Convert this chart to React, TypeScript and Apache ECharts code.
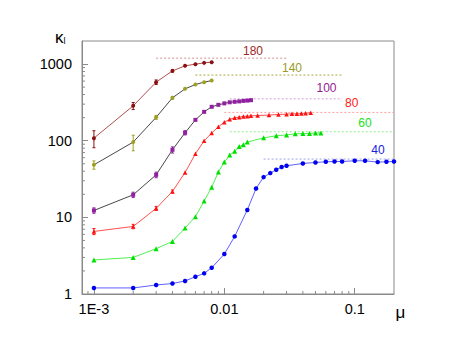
import React, { useEffect, useRef } from 'react';
import * as echarts from 'echarts';

// ---- data ----
const xLow = [0.001, 0.002, 0.003, 0.004, 0.005, 0.006, 0.007, 0.008];

const x180 = xLow;
const y180 = [108, 285, 581, 815, 948, 997, 1037, 1059];
const e180 = [27, 30, 40, 30, 0, 0, 0, 0];

const x140 = xLow;
const y140 = [48.5, 95.9, 202, 363, 475, 541, 581, 609];
const e140 = [6, 22, 12, 15, 0, 0, 0, 0];

const x100 = [0.001, 0.002, 0.003, 0.004, 0.005, 0.006, 0.007, 0.008, 0.009, 0.01, 0.011, 0.012, 0.013, 0.014, 0.015, 0.016];
const y100 = [12.3, 19.7, 35.9, 76.1, 127, 187, 238, 277, 294, 307, 317, 322, 326, 331, 334, 338];
const e100 = [1, 1.6, 3, 7, 8, 0, 0, 0, 0, 0, 0, 0, 0, 0, 0, 0];

const x80 = [0.001, 0.002, 0.003, 0.004, 0.005, 0.006, 0.007, 0.008, 0.009, 0.01, 0.011, 0.012, 0.013, 0.014, 0.015, 0.016, 0.018, 0.022, 0.026, 0.03, 0.033, 0.036, 0.039, 0.042, 0.046];
const y80 = [6.55, 7.61, 13.1, 21.8, 38.5, 67.5, 99.7, 126, 152, 174, 190, 199, 203, 207, 209, 211, 213, 216, 220, 222, 224, 224, 226, 229, 231];
const e80 = [0.6, 0.5, 0.8, 1, 0, 0, 0, 0, 0, 0, 0, 0, 0, 0, 0, 0, 0, 0, 0, 0, 0, 0, 0, 0, 0];

const x60 = [0.001, 0.002, 0.003, 0.004, 0.005, 0.006, 0.007, 0.008, 0.009, 0.01, 0.011, 0.012, 0.013, 0.014, 0.015, 0.02, 0.025, 0.03, 0.035, 0.04, 0.045, 0.05, 0.055];
const y60 = [2.78, 3.0, 3.9, 4.85, 7.26, 10.2, 16.3, 24.8, 39.0, 52.6, 64.9, 73, 84, 88.5, 96, 109, 116, 119, 123, 124, 124, 126, 126];

const x40 = [0.001, 0.002, 0.003, 0.004, 0.005, 0.006, 0.007, 0.008, 0.01, 0.012, 0.015, 0.0175, 0.02, 0.0225, 0.025, 0.0275, 0.03, 0.04, 0.05, 0.06, 0.07, 0.08, 0.1, 0.12, 0.15, 0.175, 0.2];
const y40 = [1.2, 1.2, 1.31, 1.37, 1.48, 1.68, 1.86, 2.2, 3.32, 5.64, 12.5, 23.8, 33.5, 37.8, 41.8, 45.3, 47.1, 50.5, 52.0, 53.1, 53.6, 53.6, 54.7, 54.7, 52.6, 53.1, 53.6];

// asymptote reference lines: [value, xStart, xEnd]
const refNames = ['180', '140', '100', '80', '60', '40'];
const refValues = [1194, 719, 352, 234, 131, 57.6];
const refStart = [0.003, 0.006, 0.011, 0.01, 0.011, 0.02];
const refEnd = [0.03, 0.08, 0.08, 0.2, 0.2, 0.2];

const X_MIN = 0.00081;
const X_MAX = 0.2;
const Y_MIN = 1;
const Y_MAX = 2000;

const xMinorTicks = [0.0009, 0.002, 0.003, 0.004, 0.005, 0.006, 0.007, 0.008, 0.009, 0.02, 0.03, 0.04, 0.05, 0.06, 0.07, 0.08, 0.09];
const yMinorTicks = [2, 3, 4, 5, 6, 7, 8, 9, 20, 30, 40, 50, 60, 70, 80, 90, 200, 300, 400, 500, 600, 700, 800, 900];

const FONT = "'Liberation Sans Narrow', 'Arial Narrow', 'Liberation Sans', Arial, sans-serif";
const AXIS_COLOR = '#8a8a8a';

const styles = [
  { marker: '#8b1010', line: '#b05050', ref: '#d89090', label: '#a02828', symbol: 'circle', size: 4 },
  { marker: '#a0a020', line: '#484848', ref: '#a8a840', label: '#9a9a28', symbol: 'circle', size: 4 },
  { marker: '#9020a0', line: '#484848', ref: '#d8a0e0', label: '#902090', symbol: 'rect', size: 4 },
  { marker: '#ff1010', line: '#ff5050', ref: '#ffa0a0', label: '#ff2020', symbol: 'triangle', size: 4.5 },
  { marker: '#00e000', line: '#50f050', ref: '#90f090', label: '#20e020', symbol: 'triangle', size: 5 },
  { marker: '#0000f0', line: '#6060ff', ref: '#a0a0f0', label: '#2020e0', symbol: 'circle', size: 4.5 },
];

const seriesX = [x180, x140, x100, x80, x60, x40];
const seriesY = [y180, y140, y100, y80, y60, y40];
const seriesE = [e180, e140, e100, e80, null, null];

// label anchor positions in pixels (centre)
const labelPos = [
  [253, 51], [292, 68], [326.5, 88], [351.7, 103], [365, 123], [378, 150],
];

const isDecade = (v: number) => Math.abs(Math.log10(v) - Math.round(Math.log10(v))) < 1e-6;

export default function App() {
  const ref = useRef<HTMLDivElement>(null);
  useEffect(() => {
    if (!ref.current) return;
    const chart = echarts.init(ref.current, null, { renderer: 'svg' });
    const series: any[] = [];

    // minor ticks
    series.push({
      type: 'custom',
      silent: true,
      clip: false,
      data: xMinorTicks.map((v) => [v, Y_MIN]),
      encode: { x: 0, y: 1 },
      renderItem: (_p: any, api: any) => {
        const p = api.coord([api.value(0), api.value(1)]);
        return { type: 'line', shape: { x1: p[0], y1: p[1], x2: p[0], y2: p[1] - 3 }, style: { stroke: AXIS_COLOR, lineWidth: 1 } };
      },
      z: 1,
    });
    series.push({
      type: 'custom',
      silent: true,
      clip: false,
      data: yMinorTicks.map((v) => [X_MIN, v]),
      encode: { x: 0, y: 1 },
      renderItem: (_p: any, api: any) => {
        const p = api.coord([api.value(0), api.value(1)]);
        return { type: 'line', shape: { x1: p[0], y1: p[1], x2: p[0] + 3, y2: p[1] }, style: { stroke: AXIS_COLOR, lineWidth: 1 } };
      },
      z: 1,
    });

    refNames.forEach((name, i) => {
      const st = styles[i];
      series.push({
        type: 'line',
        silent: true,
        symbol: 'none',
        data: [[refStart[i], refValues[i]], [refEnd[i], refValues[i]]],
        lineStyle: { color: st.ref, width: 1, type: [2, 2] },
        z: 2,
      });
      const xs = seriesX[i];
      const ys = seriesY[i];
      series.push({
        type: 'line',
        name,
        data: xs.map((x, k) => [x, ys[k]]),
        symbol: st.symbol,
        symbolSize: st.size,
        showSymbol: true,
        lineStyle: { color: st.line, width: 1 },
        itemStyle: { color: st.marker },
        z: 4,
      });
      const es = seriesE[i];
      if (es) {
        series.push({
          type: 'custom',
          silent: true,
          data: xs.map((x, k) => [x, ys[k], es[k]]).filter((d) => d[2] > 0),
          encode: { x: 0, y: 1 },
          renderItem: (_p: any, api: any) => {
            const x = api.value(0);
            const y = api.value(1);
            const e = api.value(2);
            const t = api.coord([x, y + e]);
            const b = api.coord([x, y - e]);
            const s = { stroke: st.marker, lineWidth: 1 };
            return {
              type: 'group',
              children: [
                { type: 'line', shape: { x1: t[0], y1: t[1], x2: b[0], y2: b[1] }, style: s },
                { type: 'line', shape: { x1: t[0] - 1.5, y1: t[1], x2: t[0] + 1.5, y2: t[1] }, style: s },
                { type: 'line', shape: { x1: b[0] - 1.5, y1: b[1], x2: b[0] + 1.5, y2: b[1] }, style: s },
              ],
            };
          },
          z: 3,
        });
      }
    });

    const graphics: any[] = refNames.map((name, i) => ({
      type: 'text',
      x: labelPos[i][0],
      y: labelPos[i][1],
      style: { text: name, fill: styles[i].label, font: `12px ${FONT}`, align: 'center', verticalAlign: 'middle' },
    }));
    graphics.push({
      type: 'text',
      x: 55,
      y: 37,
      style: {
        text: '{k|κ}{s|l}',
        verticalAlign: 'middle',
        rich: {
          k: { fontSize: 17, fontFamily: 'Liberation Sans', fill: '#000' },
          s: { fontSize: 9, fontFamily: 'Liberation Sans', fill: '#000', padding: [8, 0, 0, 0] },
        },
      },
    });
    graphics.push({
      type: 'text',
      x: 400.5,
      y: 312,
      style: { text: 'μ', font: "17px 'Liberation Sans'", fill: '#000', align: 'center', verticalAlign: 'middle' },
    });

    chart.setOption({
      animation: false,
      grid: { left: 82, right: 63, top: 41, bottom: 59, show: true, borderColor: AXIS_COLOR, borderWidth: 1, backgroundColor: 'transparent' },
      xAxis: {
        type: 'log',
        logBase: 10,
        min: X_MIN,
        max: X_MAX,
        splitLine: { show: false },
        axisLine: { lineStyle: { color: AXIS_COLOR } },
        axisTick: { inside: true, length: 6, lineStyle: { color: AXIS_COLOR } },
        axisLabel: {
          showMinLabel: false,
          showMaxLabel: false,
          margin: 7,
          color: '#000',
          fontSize: 14.5,
          fontFamily: FONT,
          formatter: (v: number) => {
            if (!isDecade(v)) return '';
            const e = Math.round(Math.log10(v));
            if (e === -3) return '1E-3';
            return String(Math.pow(10, e));
          },
        },
      },
      yAxis: {
        type: 'log',
        logBase: 10,
        min: Y_MIN,
        max: Y_MAX,
        splitLine: { show: false },
        axisLine: { show: true, lineStyle: { color: AXIS_COLOR } },
        axisTick: { show: true, inside: true, length: 6, lineStyle: { color: AXIS_COLOR } },
        axisLabel: {
          showMaxLabel: false,
          margin: 10,
          color: '#000',
          fontSize: 14.5,
          fontFamily: FONT,
          formatter: (v: number) => (isDecade(v) ? String(Math.round(v)) : ''),
        },
      },
      graphic: graphics,
      series,
    });
    return () => chart.dispose();
  }, []);
  return <div ref={ref} style={{ position: 'fixed', left: 0, top: 0, width: 457, height: 353, background: '#fff' }} />;
}
